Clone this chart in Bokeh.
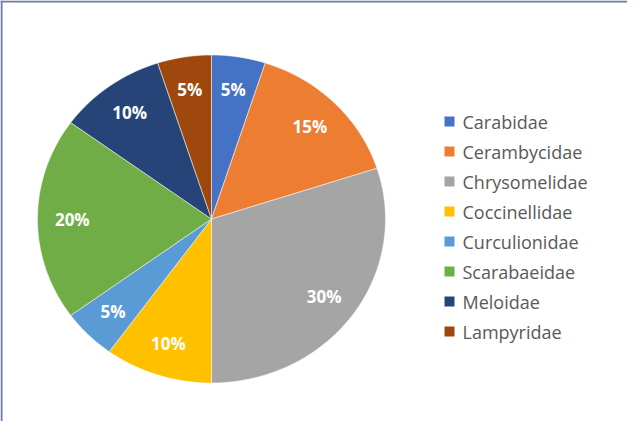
import math
from bokeh.plotting import figure
from bokeh.models import ColumnDataSource, Range1d, Span
from bokeh.core.properties import value
from bokeh.embed import file_html
from bokeh.resources import INLINE

categories = ["Carabidae", "Cerambycidae", "Chrysomelidae", "Coccinellidae",
              "Curculionidae", "Scarabaeidae", "Meloidae", "Lampyridae"]
shares = [5, 15, 30, 10, 5, 20, 10, 5]
colors = ["#4472C4", "#ED7D31", "#A5A5A5", "#FFC000",
          "#5B9BD5", "#70AD47", "#264478", "#9E480E"]

W, H = 627, 421
cx, cy = 211, 202.5      # pie centre (px in the plot)
rx, ry = 174, 164        # the reference pie is slightly wider than tall
label_k = 0.8

total = float(sum(shares))
xs, ys, lx, ly, labels = [], [], [], [], []
cum = 0.0
for s in shares:
    f0 = cum / total
    cum += s
    f1 = cum / total
    n = max(4, int(200 * (f1 - f0)))
    px, py = [cx], [cy]
    for i in range(n + 1):
        t = 2 * math.pi * (f0 + (f1 - f0) * i / n)   # clockwise from top
        px.append(cx + rx * math.sin(t))
        py.append(cy + ry * math.cos(t))
    xs.append(px)
    ys.append(py)
    tm = 2 * math.pi * (f0 + f1) / 2
    lx.append(cx + label_k * rx * math.sin(tm))
    ly.append(cy + label_k * ry * math.cos(tm))
    labels.append(f"{int(round(100 * s / total))}%")

src = ColumnDataSource(dict(xs=xs, ys=ys, color=colors,
                            lx=lx, ly=ly, label=labels))

p = figure(width=W, height=H, output_backend="svg", toolbar_location=None,
           x_range=Range1d(0, W), y_range=Range1d(0, H), min_border=0)
p.axis.visible = False
p.grid.visible = False
p.outline_line_color = None
p.background_fill_color = "white"
p.border_fill_color = "white"

p.patches(xs="xs", ys="ys", fill_color="color", line_color="white",
          line_width=1, line_alpha=0.5, source=src)

p.text(x="lx", y="ly", text="label", source=src, text_color="white",
       text_font=value("Open Sans"), text_font_style="bold",
       text_font_size="17px", text_align="center", text_baseline="middle")

# legend
leg_x_sq, leg_x_txt, leg_y0, leg_step = 449, 462, 300, 30
leg = ColumnDataSource(dict(
    y=[leg_y0 - i * leg_step for i in range(len(categories))],
    name=categories, color=colors))
p.rect(x=leg_x_sq, y="y", width=10, height=10, fill_color="color",
       line_color=None, source=leg)
p.text(x=leg_x_txt, y="y", text="name", source=leg, text_color="#595959",
       text_font=value("Open Sans"), text_font_size="18px",
       text_baseline="middle", text_align="left")

# chart border (left and top visible)
p.add_layout(Span(location=1, dimension="height", line_color="#6B7BA6", line_width=2))
p.add_layout(Span(location=H - 1, dimension="width", line_color="#6B7BA6", line_width=2))

open("out.html", "w").write(file_html(p, INLINE))
